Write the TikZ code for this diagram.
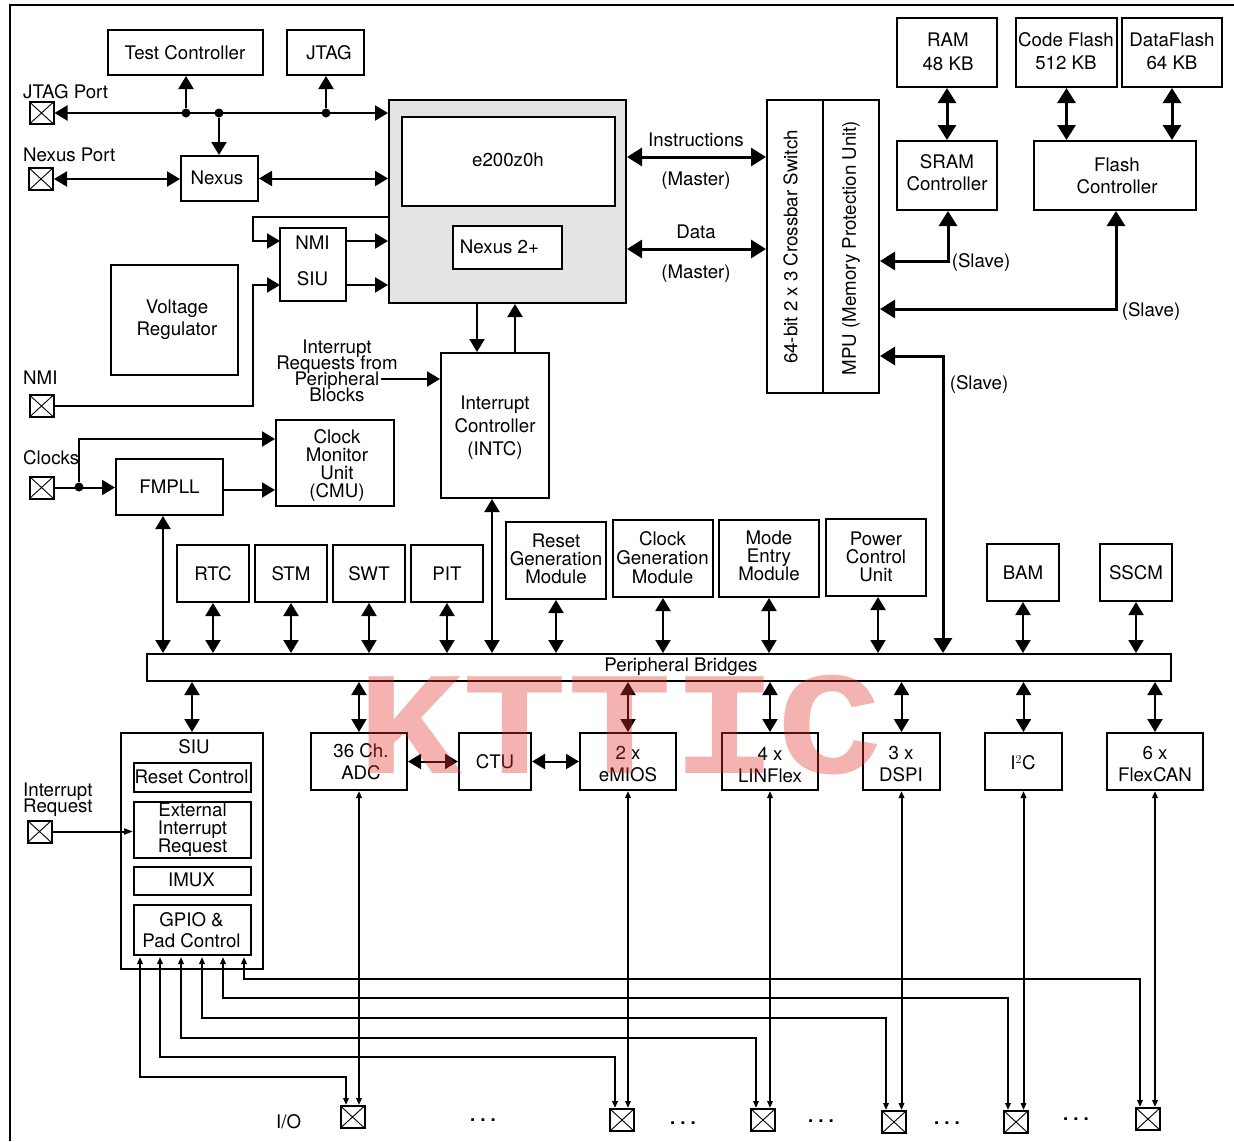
\documentclass[tikz,border=0pt]{standalone}
\usepackage{fontspec}
\setmainfont{TeX Gyre Heros}
\newfontfamily\markfont{Liberation Mono}[BoldFont={Liberation Mono Bold}]
\usetikzlibrary{arrows.meta,calc}
\definecolor{kcore}{HTML}{E4E4E4}
\definecolor{kmark}{HTML}{E1322A}
\newcommand{\fs}[2]{\fontsize{#1}{#2}\selectfont\lineskiplimit=-20pt\relax}
\tikzset{
  box/.style={rectangle,draw=black,line width=2pt,inner sep=0pt,align=center,font=\fs{18.7}{22}},
  tight/.style={box,font=\fs{18.7}{18}},
  pad/.style={rectangle,draw=black,line width=2pt,inner sep=0pt,minimum width=24,minimum height=22,
    path picture={\draw[line width=.9pt] (path picture bounding box.south west)--(path picture bounding box.north east)
      (path picture bounding box.north west)--(path picture bounding box.south east);}},
  dotnode/.style={circle,fill=black,inner sep=0pt,minimum size=9},
  txt/.style={inner sep=0pt,align=center,font=\fs{18.7}{22}},
  txtt/.style={txt,font=\fs{18.7}{18}},
  txtl/.style={txt,align=left,anchor=west,font=\fs{18.7}{16}},
  arr/.style={-{Triangle[length=13,width=15]},line width=2pt},
  biarr/.style={{Triangle[length=13,width=15]}-{Triangle[length=13,width=15]},line width=2pt},
  busarr/.style={{Triangle[length=15,width=18]}-{Triangle[length=15,width=18]},line width=3pt},
  thinarr/.style={-{Triangle[length=9,width=6]},line width=2pt},
  thinbi/.style={{Triangle[length=7,width=5.5]}-{Triangle[length=7,width=5.5]},line width=2pt},
  link/.style={line width=2pt},
}
\begin{document}
\begin{tikzpicture}[x=1pt,y=-1pt]
  \useasboundingbox (0,0) rectangle (1234,1141);
  \draw[link] (1234,5) -- (10,5) -- (10,1141);

  \node[box,minimum width=155,minimum height=45] (testctl) at (185.5,52.5) {};
  \node[txt] (testtxt) at (185,53) {Test Controller};
  \node[box,minimum width=77,minimum height=45] (jtag) at (325.5,52.5) {};
  \node[txt] (jtagname) at (329,53) {JTAG};
  \node[box,fill=kcore,minimum width=237,minimum height=203] (core) at (507.5,201.5) {};
  \node[box,fill=white,minimum width=213,minimum height=89] (e200) at (508.5,161.5) {};
  \node[txt] (e200txt) at (508,160) {e200z0h};
  \node[box,fill=white,minimum width=109,minimum height=43] (nexustwo) at (507.5,247.5) {};
  \node[txt] (nexustwotxt) at (499.5,247) {Nexus 2+};
  \node[box,minimum width=77,minimum height=45] (nexus) at (219.5,178.5) {};
  \node[txt] (nexusname) at (217,178) {Nexus};
  \node[box,minimum width=66,minimum height=73] (nmisiu) at (313,264.5) {};
  \node[txt,font=\fs{18.7}{36}] (nmisiutxt) at (312.5,261) {NMI\\SIU};
  \node[box,minimum width=127,minimum height=110] (vreg) at (174.5,320) {};
  \node[txt] (vregtxt) at (177,319.5) {Voltage\\Regulator};
  \node[box,minimum width=108,minimum height=145] (intc) at (495,425.5) {};
  \node[txt,font=\fs{18.7}{23}] (intctxt) at (495,428) {Interrupt\\Controller\\(INTC)};
  \node[box,minimum width=118,minimum height=86] (cmu) at (335,463) {};
  \node[txtt] (cmutxt) at (337,465) {Clock\\Monitor\\Unit\\(CMU)};
  \node[box,minimum width=107,minimum height=56] (fmpll) at (169.5,487) {FMPLL};

  \node[box,minimum width=56,minimum height=293] (xbar) at (795,246.5) {};
  \node[txt,rotate=90] (xbartxt) at (790.5,247) {64-bit 2 x 3 Crossbar Switch};
  \node[box,minimum width=56,minimum height=293] (mpu) at (851,246.5) {};
  \node[txt,rotate=90] (mputxt) at (851,248) {MPU (Memory Protection Unit)};
  \node[box,minimum width=100,minimum height=69] (ram) at (947,52.5) {};
  \node[txt,font=\fs{18.7}{24}] (ramtxt) at (948,52) {RAM\\48 KB};
  \node[box,minimum width=101,minimum height=69] (cflash) at (1066.5,52.5) {};
  \node[txt,font=\fs{18.7}{23}] (cflashtxt) at (1066,51.5) {Code Flash\\512 KB};
  \node[box,minimum width=100,minimum height=69] (dflash) at (1172,52.5) {};
  \node[txt,font=\fs{18.7}{23}] (dflashtxt) at (1172,51.5) {DataFlash\\64 KB};
  \node[box,minimum width=100,minimum height=69] (sram) at (947,175.5) {};
  \node[txt] (sramtxt) at (947,173) {SRAM\\Controller};
  \node[box,minimum width=162,minimum height=69] (flashc) at (1115,175.5) {};
  \node[txt] (flashtxt) at (1117,176) {Flash\\Controller};

  \node[box,minimum width=72,minimum height=57] (rtc) at (213,573.5) {RTC};
  \node[box,minimum width=72,minimum height=57] (stm) at (291,573.5) {STM};
  \node[box,minimum width=72,minimum height=57] (swt) at (369,573.5) {SWT};
  \node[box,minimum width=72,minimum height=57] (pit) at (447,573.5) {PIT};
  \node[tight,minimum width=100,minimum height=77] (rgm) at (556,560.5) {};
  \node[txtt] (rgmtxt) at (556,558.5) {Reset\\Generation\\Module};
  \node[tight,minimum width=100,minimum height=77] (cgm) at (663,558.5) {};
  \node[txt,font=\fs{18.7}{19}] (cgmtxt) at (662.5,558) {Clock\\Generation\\Module};
  \node[tight,minimum width=100,minimum height=77] (mem) at (769,558.5) {};
  \node[txtt] (memtxt) at (769,555.5) {Mode\\Entry\\Module};
  \node[tight,minimum width=100,minimum height=77] (pcu) at (876,557.5) {};
  \node[txtt] (pcutxt) at (876,556.5) {Power\\Control\\Unit};
  \node[box,minimum width=72,minimum height=57] (bam) at (1023,572.5) {BAM};
  \node[box,minimum width=72,minimum height=57] (sscm) at (1136,572.5) {SSCM};
  \node[box,minimum width=1024,minimum height=27] (bridges) at (659,667.5) {};
  \node[txt] (bridgestxt) at (681,666.5) {Peripheral Bridges};

  \node[box,minimum width=142,minimum height=236] (siu) at (192,851) {};
  \node[txt] (siutxt) at (194,747) {SIU};
  \node[box,minimum width=117,minimum height=29] (reset) at (192.5,777.5) {};
  \node[txt] (resettxt) at (191.5,777) {Reset Control};
  \node[tight,minimum width=117,minimum height=56] (extint) at (192.5,830) {External\\Interrupt\\Request};
  \node[box,minimum width=117,minimum height=28] (imux) at (192.5,881) {};
  \node[txt] (imuxtxt) at (191.5,880) {IMUX};
  \node[box,minimum width=117,minimum height=50] (gpio) at (192.5,930) {};
  \node[txt,font=\fs{18.7}{21}] (gpiotxt) at (191.5,930) {GPIO \&\\Pad Control};
  \node[box,minimum width=96,minimum height=57] (adc) at (359,761.5) {};
  \node[txt] (adctxt) at (361,761.5) {36 Ch.\\ADC};
  \node[box,minimum width=72,minimum height=57] (ctu) at (495,761.5) {CTU};
  \node[box,minimum width=96,minimum height=57] (emios) at (628,761.5) {};
  \node[txt] (emiostxt) at (628,764.5) {2 x\\eMIOS};
  \node[box,minimum width=96,minimum height=57] (linflex) at (770,761.5) {};
  \node[txt] (linflextxt) at (770,764.5) {4 x\\LINFlex};
  \node[box,minimum width=77,minimum height=57] (dspi) at (901.5,761.5) {};
  \node[txt] (dspitxt) at (901,764.5) {3 x\\DSPI};
  \node[box,minimum width=77,minimum height=57] (iic) at (1023.5,761.5) {};
  \node[txt] (iictxt) at (1023,763) {I$^2$C};
  \node[box,minimum width=96,minimum height=57] (flexcan) at (1155,761.5) {};
  \node[txt] (flexcantxt) at (1155,764.5) {6 x\\FlexCAN};

  \node[pad] (jtagpad) at (41.5,113) {};
  \node[pad] (nexuspad) at (41,179) {};
  \node[pad] (nmipad) at (41.5,406) {};
  \node[pad] (clkpad) at (41.5,487.5) {};
  \node[pad] (irqpad) at (39.5,831.5) {};
  \node[pad] (ioa) at (352.5,1117) {};
  \node[pad] (iob) at (622,1120) {};
  \node[pad] (ioc) at (763,1120) {};
  \node[pad] (iod) at (894,1122) {};
  \node[pad] (ioe) at (1016,1122) {};
  \node[pad] (iof) at (1148,1119) {};

  \node[txtl] (jtagtxt) at (23,92) {JTAG Port};
  \node[txtl] (nexustxt) at (23,155) {Nexus Port};
  \node[txtl] (nmitxt) at (23,378) {NMI};
  \node[txtl] (clktxt) at (23,458) {Clocks};
  \node[txtl] (irqtxt) at (23,800) {Interrupt\\Request};
  \node[txtl] (iotxt) at (276,1122) {I/O};
  \node[txt,font=\fs{18.7}{16}] (irqblocks) at (337,370.5) {Interrupt\\Requests from\\Peripheral\\Blocks};
  \node[txt] (instr) at (696,140) {Instructions};
  \node[txt] (masta) at (696,181) {(Master)};
  \node[txt] (datatxt) at (696,232) {Data};
  \node[txt] (mastb) at (696,274) {(Master)};
  \node[txt] (slavea) at (981,262) {(Slave)};
  \node[txt] (slaveb) at (1151,311.5) {(Slave)};
  \node[txt] (slavec) at (979,384.5) {(Slave)};
  \foreach \n/\x/\y in {a/483/1120,b/683/1123,c/821/1121,d/947/1123,e/1076/1119}
    \node[txt,font=\fs{18.7}{22}\bfseries] (gap\n) at (\x,\y) {.\hspace{5pt}.\hspace{5pt}.};

  \node[dotnode] (dota) at (186,113) {};
  \node[dotnode] (dotb) at (219,113) {};
  \node[dotnode] (dotc) at (326,113) {};
  \node[dotnode] (dotd) at (79,487) {};
  \draw[biarr] (jtagpad.east) -- (core.west |- jtagpad.east);
  \draw[arr] (dota) -- (dota |- testctl.south);
  \draw[arr] (dotc) -- (dotc |- jtag.south);
  \draw[arr] (dotb) -- (dotb |- nexus.north);
  \draw[biarr] (nexuspad.east) -- (nexus.west |- nexuspad.east);
  \draw[biarr] (nexus.east) -- (core.west |- nexus.east);
  \coordinate (loop) at (253,217);
  \coordinate (nmiin) at (280,241);
  \coordinate (siuin) at (280,285);
  \coordinate (irqline) at (381,379);
  \draw[arr] (core.west |- loop) -- (loop) |- (nmiin);
  \draw[arr] (nmiin -| nmisiu.east) -- (nmiin -| core.west);
  \draw[arr] (siuin -| nmisiu.east) -- (siuin -| core.west);
  \draw[arr] (nmipad.east) -| (loop |- siuin) -- (siuin);
  \draw[arr] (irqline) -- (intc.west |- irqline);
  \draw[arr] (core.south -| 477,0) -- (intc.north -| 477,0);
  \draw[arr] (intc.north -| 515,0) -- (core.south -| 515,0);
  \draw[arr] (clkpad.east) -- (fmpll.west |- clkpad.east);
  \draw[arr] (dotd) |- (cmu.west |- 0,439);
  \draw[arr] (fmpll.east |- 0,490) -- (cmu.west |- 0,490);

  \draw[busarr] (core.east |- 0,157) -- (xbar.west |- 0,157);
  \draw[busarr] (core.east |- 0,249) -- (xbar.west |- 0,249);
  \draw[busarr] (ram.south) -- (sram.north);
  \draw[busarr] (cflash.south) -- (cflash.south |- flashc.north);
  \draw[busarr] (dflash.south) -- (dflash.south |- flashc.north);
  \draw[busarr] (sram.south -| 948,0) |- (mpu.east |- 0,261);
  \draw[busarr] (flashc.south -| 1116,0) |- (mpu.east |- 0,309);
  \draw[busarr] (mpu.east |- 0,356) -| (bridges.north -| 943,0);

  \foreach \b in {rtc,stm,swt,pit,rgm,cgm,mem,bam,sscm}
    \draw[biarr] (\b.south) -- (\b.south |- bridges.north);
  \draw[biarr] (fmpll.south -| 163,0) -- (bridges.north -| 163,0);
  \draw[biarr] (intc.south -| 492,0) -- (bridges.north -| 492,0);
  \draw[biarr] (pcu.south -| 878,0) -- (bridges.north -| 878,0);
  \foreach \b in {adc,emios,linflex,dspi,iic,flexcan}
    \draw[biarr] (\b.north) -- (\b.north |- bridges.south);
  \draw[biarr] (siu.north) -- (siu.north |- bridges.south);
  \draw[biarr] (adc.east) -- (ctu.west);
  \draw[biarr] (ctu.east) -- (emios.west);

  \draw[thinarr] (irqpad.east) -- (extint.west |- irqpad.east);
  \foreach \b/\p in {adc/ioa,emios/iob,linflex/ioc,dspi/iod,iic/ioe,flexcan/iof}
    \draw[thinbi] (\b.south) -- (\b.south |- \p.north);
  \foreach \x/\y/\p/\d in {140/1077/ioa/-6.5,160/1057/iob/-7,181/1038/ioc/-7,202/1018/iod/-8,223/998/ioe/-8,244/979/iof/-8}{
    \coordinate (siuend) at (\x,957);
    \coordinate (drop) at ([xshift=\d]\p.north);
    \draw[thinbi] (siuend) |- (drop |- 0,\y) -- (drop);
  }

  \node[inner sep=0pt,text=kmark,opacity=.37,xscale=1.19,font=\markfont\bfseries\fs{147}{147}] (mark) at (620,725) {KTTIC};
\end{tikzpicture}
\end{document}
